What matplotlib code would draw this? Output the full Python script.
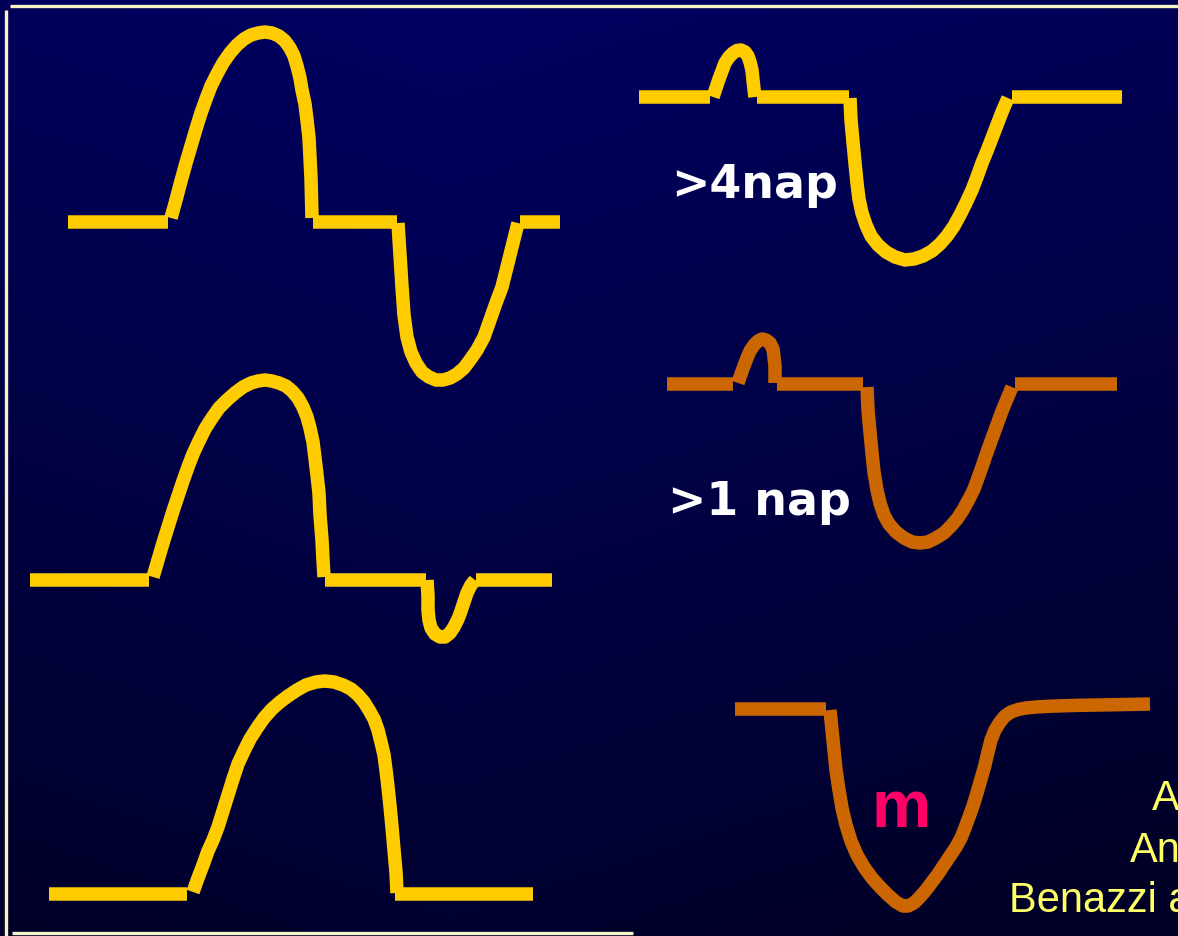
import numpy as np
import matplotlib
matplotlib.use("Agg")
import matplotlib.pyplot as plt

W, H = 1178, 936
YELLOW = "#FFCC00"
ORANGE = "#CC6600"
LW = 13.5 * 72 / 100  # ~13.5 px strokes

# --- waveform traces (pixel coords) ---
# top-left: baseline, positive wave, baseline, negative wave, baseline
w1_base_x = [[68, 168], [313, 397], [520, 560]]
w1_base_y = [222, 222, 222]
w1_up_x = [171, 176, 181, 186, 191, 196, 201, 206, 211, 217, 223, 230, 237, 244, 251, 258, 265,
           272, 279, 285, 290, 294, 297, 300, 302, 305, 307, 309, 310, 311, 311.5, 312]
w1_up_y = [218, 200, 181, 163, 146, 129, 113, 99, 86, 74, 63, 53, 45, 39, 35, 33, 32,
           33, 36, 41, 48, 56, 66, 78, 90, 104, 120, 138, 158, 178, 198, 218]
w1_dn_x = [398, 400, 402, 404, 407, 411, 416, 422, 429, 436, 443, 450, 457, 464, 470, 477, 484,
           490, 496, 502, 506, 510, 514, 518]
w1_dn_y = [223, 255, 287, 315, 337, 352, 363, 372, 377, 380, 380, 378, 374, 368, 360, 350, 337,
           320, 303, 287, 271, 255, 239, 223]

# middle-left
w2_base_x = [[30, 149], [325, 426], [476, 552]]
w2_base_y = [580, 580, 580]
w2_up_x = [153, 158, 163, 168, 173, 178, 183, 188, 193, 199, 205, 212, 219, 227, 235, 243, 251, 258,
           265, 272, 279, 286, 292, 298, 303, 307, 310, 313, 315, 317, 319, 320, 322, 323, 324]
w2_up_y = [577, 560, 543, 527, 511, 496, 481, 467, 454, 441, 429, 418, 408, 400, 393, 387, 383, 381,
           380, 381, 383, 386, 391, 398, 407, 417, 428, 442, 458, 475, 493, 515, 540, 560, 577]
w2_dn_x = [427, 428, 428, 429, 431, 435, 440, 445, 450, 454, 458, 461, 464, 467, 471, 475]
w2_dn_y = [580, 596, 610, 620, 628, 634, 637, 637, 633, 627, 619, 611, 602, 593, 585, 580]

# bottom-left
w3_base_x = [[49, 187], [395, 533]]
w3_base_y = [894, 894]
w3_up_x = [193, 198, 203, 208, 213, 218, 223, 228, 233, 238, 244, 250, 257, 264, 272, 280, 288, 297, 306,
           316, 325, 334, 343, 351, 358, 364, 369, 374, 378, 381, 384, 386, 388, 390, 392, 394, 396, 397]
w3_up_y = [892, 878, 865, 851, 840, 827, 811, 795, 779, 764, 751, 739, 728, 718, 709, 702, 696, 690, 685,
           682, 681, 682, 685, 689, 695, 702, 710, 719, 730, 742, 755, 770, 787, 806, 827, 850, 872, 893]

# top-right (>4nap)
w4_base_x = [[639, 710], [757, 849], [1012, 1122]]
w4_base_y = [97, 97, 97]
w4_up_x = [713, 716, 719, 722, 725, 729, 733, 737, 741, 745, 748, 750, 752, 753, 754, 755]
w4_up_y = [97, 88, 79, 71, 63, 57, 53, 50.5, 50, 52, 56, 62, 70, 80, 89, 97]
w4_dn_x = [850, 851, 853, 855, 857, 859, 862, 866, 871, 878, 886, 895, 905, 914, 923, 932, 940, 947,
           954, 960, 966, 972, 977, 982, 987, 992, 997, 1002, 1008]
w4_dn_y = [98, 120, 142, 163, 183, 199, 213, 225, 236, 245, 252, 257, 260, 259, 256, 251, 244, 236,
           226, 215, 203, 190, 177, 163, 151, 138, 125, 112, 98]

# middle-right (>1 nap)
w5_base_x = [[667, 733], [777, 863], [1015, 1117]]
w5_base_y = [384, 384, 384]
w5_up_x = [738, 741, 744, 747, 750, 754, 758, 762, 766, 770, 773, 774, 775, 775, 775]
w5_up_y = [383, 374, 366, 358, 351, 345, 341, 339, 340, 343, 349, 357, 366, 375, 383]
w5_dn_x = [867, 868, 870, 872, 874, 877, 880, 884, 889, 896, 904, 912, 920, 928, 936, 944, 951, 957,
           963, 969, 974, 978, 982, 986, 990, 994, 998, 1002, 1007, 1012]
w5_dn_y = [387, 410, 432, 453, 472, 490, 503, 515, 524, 532, 538, 542, 543, 542, 538, 533, 526, 519,
           510, 499, 489, 478, 467, 455, 444, 433, 422, 411, 399, 387]

# bottom-right (m)
w6_base_x = [[735, 826]]
w6_base_y = [709]
w6_dn_x = [830, 832, 834, 836, 839, 842, 846, 851, 857, 864, 872, 880, 888, 896, 903, 908, 914, 920,
           926, 932, 938, 944, 950, 956, 961, 965, 969, 973, 977, 981, 985, 988, 991, 995, 1000,
           1005, 1011, 1018, 1026, 1036, 1048, 1062, 1080, 1110, 1150]
w6_dn_y = [710, 730, 750, 770, 790, 808, 825, 841, 855, 867, 878, 887, 895, 902, 906, 906, 903, 897,
           890, 882, 874, 865, 856, 847, 838, 828, 817, 806, 793, 779, 765, 752, 740, 730, 722,
           716, 712, 709.5, 708, 707, 706.3, 705.8, 705.3, 704.8, 704]

labels = [">4nap", ">1 nap"]
label_pos = [(671, 198), (668, 515)]
ref_lines = ["A", "An", "Benazzi a"]
ref_pos = [(1152, 810), (1130, 862), (1009, 912)]

fig = plt.figure(figsize=(W / 100, H / 100), dpi=100)
ax = fig.add_axes([0, 0, 1, 1])
ax.set_xlim(0, W)
ax.set_ylim(H, 0)
ax.axis("off")

# dark blue background, lighter at top
yy, xx = np.mgrid[0:H, 0:W]
blue = 0x62 - 0x32 * (yy / H) - 0x14 * np.abs(xx - 450) / W
bg = np.zeros((H, W, 3))
bg[..., 2] = blue / 255
ax.imshow(bg, extent=[0, W, H, 0], aspect="auto", zorder=0)

# slide frame lines
frame = "#F8F4C8"
ax.plot([10, W], [6, 6], color=frame, lw=2.4, solid_capstyle="butt")
ax.plot([5.5, 5.5], [10, H], color=frame, lw=2.4, solid_capstyle="butt")
ax.plot([12, 633], [933, 933], color=frame, lw=2.4, solid_capstyle="butt")


def draw_trace(base_x, base_y, curves, color):
    for bx, by in zip(base_x, base_y):
        ax.plot(bx, [by, by], color=color, lw=LW, solid_capstyle="butt", zorder=2)
    for cx, cy in curves:
        ax.plot(cx, cy, color=color, lw=LW, solid_capstyle="butt",
                solid_joinstyle="round", zorder=2)


draw_trace(w1_base_x, w1_base_y, [(w1_up_x, w1_up_y), (w1_dn_x, w1_dn_y)], YELLOW)
draw_trace(w2_base_x, w2_base_y, [(w2_up_x, w2_up_y), (w2_dn_x, w2_dn_y)], YELLOW)
draw_trace(w3_base_x, w3_base_y, [(w3_up_x, w3_up_y)], YELLOW)
draw_trace(w4_base_x, w4_base_y, [(w4_up_x, w4_up_y), (w4_dn_x, w4_dn_y)], YELLOW)
draw_trace(w5_base_x, w5_base_y, [(w5_up_x, w5_up_y), (w5_dn_x, w5_dn_y)], ORANGE)
draw_trace(w6_base_x, w6_base_y, [(w6_dn_x, w6_dn_y)], ORANGE)

for s, (x, y) in zip(labels, label_pos):
    ax.text(x, y, s, color="white", fontsize=33, fontweight="bold",
            family="DejaVu Sans", ha="left", va="baseline", zorder=3)

ax.text(872, 827, "m", color="#FF0066", fontsize=48, fontweight="bold",
        family="Liberation Sans", ha="left", va="baseline", zorder=3)

for s, (x, y) in zip(ref_lines, ref_pos):
    ax.text(x, y, s, color="#FFFF66", fontsize=30, family="Liberation Sans",
            ha="left", va="baseline", zorder=3)

fig.savefig("out.png", dpi=100, facecolor="#000050")
